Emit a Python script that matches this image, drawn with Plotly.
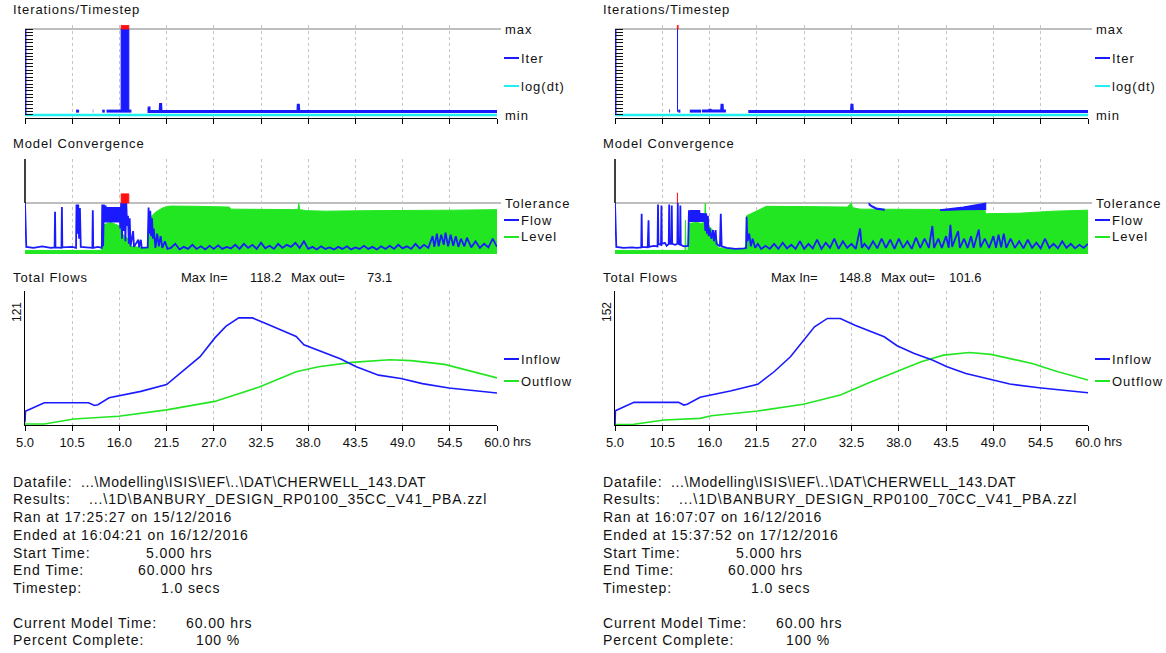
import plotly.graph_objects as go

W, H = 1166, 653

# ---------------- data ----------------
TICK_HOURS = [5.0, 10.5, 16.0, 21.5, 27.0, 32.5, 38.0, 43.5, 49.0, 54.5, 60.0]
TICK_LABELS = ["5.0", "10.5", "16.0", "21.5", "27.0", "32.5", "38.0", "43.5", "49.0", "54.5", "60.0"]

# Iterations/Timestep (0 = min, 1 = max)
left_iter = [(5.0, 1.0), (5.0, 0.0), None,
             (10.95, 0.045), (11.3, 0.045), None,
             (12.9, 0.045), (12.95, 0.045), None,
             (14.0, 0.045), (14.3, 0.045), None,
             (14.5, 0.045), (17.4, 0.045), None,
             (19.3, 0.08), (19.45, 0.08), (19.45, 0.04), (20.75, 0.04), (20.8, 0.14), (20.85, 0.04),
             (36.8, 0.04), (36.85, 0.13), (36.9, 0.04), (60.0, 0.04)]
left_iter_at_max = [(16.2, 17.1)]              # periods where iterations hit max
left_iter_over = [(16.2, 17.1, 1.045)]         # (start, end, top) above max
right_iter = [(5.0, 1.0), (5.0, 0.0), None,
              (11.3, 0.045), (11.4, 0.045), None,
              (12.35, 0.045), (12.6, 0.045), None,
              (13.7, 0.045), (15.0, 0.045), None,
              (15.1, 0.045), (16.0, 0.045), (16.05, 0.07), (16.1, 0.045), (17.4, 0.045), (17.45, 0.13),
              (17.5, 0.045), (17.9, 0.045), None,
              (20.5, 0.04), (32.5, 0.04), (32.55, 0.13), (32.6, 0.04), (60.0, 0.04)]
right_iter_at_max = [(12.27, 12.33)]
right_iter_over = [(12.25, 12.35, 1.045)]
left_logdt = [(5.0, 0.0), (60.0, 0.0)]
right_logdt = [(5.0, 0.0), (60.0, 0.0)]

# Model Convergence (tolerance = 1)
left_level = [(5.0, 0.07), (13.9, 0.07), (14.0, 0.55), (14.5, 0.6), (15.0, 0.62), (15.5, 0.58), (16.0, 0.55),
              (16.3, 0.4), (17.0, 0.3), (17.3, 0.15), (19.3, 0.12), (19.4, 0.7), (19.8, 0.75), (20.2, 0.82),
              (20.6, 0.86), (21.0, 0.9), (21.5, 0.93), (22.0, 0.94), (25.0, 0.935), (28.0, 0.93), (28.8, 0.92),
              (29.0, 0.88), (33.0, 0.87), (36.8, 0.87), (36.9, 1.0), (37.0, 0.87), (37.8, 0.85), (40.0, 0.84),
              (45.0, 0.85), (50.0, 0.85), (55.0, 0.86), (60.0, 0.87)]
left_flow = [(5.0, 1.0), (5.05, 0.35), (5.15, 0.14), (6.0, 0.12), (7.0, 0.15), (8.0, 0.12), (8.45, 0.13),
             (8.5, 0.83), (8.55, 0.13), (9.25, 0.12), (9.3, 0.92), (9.35, 0.13), (10.5, 0.14), (10.95, 0.12),
             (11.0, 0.97), (11.1, 0.4), (11.2, 0.97), (11.3, 0.3), (11.4, 0.9), (11.5, 0.14), (12.5, 0.12),
             (12.85, 0.12), (12.9, 0.86), (12.95, 0.12), (13.5, 0.14),
             (13.95, 0.12), (14.0, 0.97), (14.1, 0.15), (14.2, 0.97), (14.3, 0.62), (14.4, 0.95),
             (14.5, 0.62), (14.6, 0.92), (14.7, 0.62), (14.8, 0.92), (14.9, 0.62), (15.0, 0.92), (15.1, 0.62),
             (15.2, 0.92), (15.3, 0.62), (15.4, 0.92), (15.5, 0.62), (15.6, 0.92), (15.7, 0.62), (15.8, 0.92),
             (15.9, 0.62), (16.0, 0.92), (16.1, 0.5), (16.2, 1.0), (16.3, 0.3), (16.4, 1.0), (16.5, 0.45),
             (16.6, 1.0), (16.7, 0.25), (16.8, 1.0), (16.9, 0.55), (17.0, 0.75), (17.1, 0.2), (17.2, 0.7),
             (17.3, 0.15), (17.6, 0.45), (17.7, 0.14), (18.2, 0.28), (18.3, 0.13), (18.5, 0.28), (18.6, 0.12),
             (19.3, 0.13), (19.4, 0.91), (19.5, 0.4), (19.6, 0.85), (19.7, 0.35), (19.8, 0.7), (19.9, 0.3),
             (20.0, 0.5), (20.2, 0.12), (20.4, 0.4), (20.6, 0.15), (20.8, 0.35), (21.0, 0.12), (21.3, 0.25),
             (21.6, 0.1), (22.0, 0.12), (22.5, 0.2), (23.0, 0.09), (23.5, 0.14), (24.0, 0.1), (24.5, 0.18),
             (25.0, 0.1), (25.5, 0.15), (26.0, 0.09), (26.5, 0.16), (27.0, 0.1), (27.5, 0.17), (28.0, 0.1),
             (28.5, 0.14), (29.0, 0.11), (29.5, 0.18), (30.0, 0.1), (30.5, 0.2), (31.0, 0.12), (31.5, 0.18),
             (32.0, 0.1), (32.5, 0.22), (33.0, 0.11), (33.5, 0.16), (34.0, 0.1), (34.5, 0.2), (35.0, 0.12),
             (35.5, 0.18), (36.0, 0.14), (36.5, 0.22), (37.0, 0.12), (37.5, 0.25), (38.0, 0.1), (38.5, 0.14),
             (39.0, 0.09), (39.5, 0.15), (40.0, 0.1), (40.5, 0.13), (41.0, 0.09), (41.5, 0.14), (42.0, 0.1),
             (42.5, 0.15), (43.0, 0.09), (43.5, 0.13), (44.0, 0.1), (44.5, 0.16), (45.0, 0.1), (45.5, 0.14),
             (46.0, 0.09), (46.5, 0.15), (47.0, 0.1), (47.5, 0.16), (48.0, 0.1), (48.5, 0.18), (49.0, 0.11),
             (49.5, 0.15), (50.0, 0.1), (50.5, 0.2), (51.0, 0.11), (51.5, 0.18), (52.0, 0.12), (52.5, 0.35),
             (52.7, 0.14), (53.0, 0.4), (53.2, 0.15), (53.5, 0.38), (53.8, 0.18), (54.0, 0.42), (54.3, 0.15),
             (54.6, 0.38), (54.9, 0.16), (55.2, 0.35), (55.5, 0.14), (55.8, 0.3), (56.2, 0.15), (56.5, 0.32),
             (57.0, 0.13), (57.5, 0.25), (58.0, 0.12), (58.5, 0.2), (59.0, 0.13), (59.5, 0.3), (60.0, 0.14)]
left_flow_high = []
left_conv_over = [(16.2, 17.1, 1.18)]

right_level = [(5.0, 0.07), (13.15, 0.07), (13.2, 0.66), (13.25, 0.07), (13.5, 0.07), (13.6, 0.6), (14.5, 0.62),
               (15.0, 0.6), (15.4, 0.62), (15.5, 1.0), (15.55, 0.6), (16.2, 0.5), (16.8, 0.3), (17.0, 0.12),
               (20.2, 0.1), (20.3, 0.75), (20.8, 0.79), (21.5, 0.85), (22.0, 0.9), (22.6, 0.935), (27.0, 0.93),
               (31.8, 0.93), (32.0, 0.92), (32.5, 1.0), (32.6, 0.91), (33.5, 0.88), (40.0, 0.87), (48.0, 0.87),
               (48.1, 0.79), (52.0, 0.8), (56.0, 0.84), (60.0, 0.86)]
right_flow = [(5.0, 1.0), (5.05, 0.35), (5.15, 0.14), (6.0, 0.12), (7.0, 0.13), (7.5, 0.12), (8.05, 0.13),
              (8.1, 0.79), (8.15, 0.14), (8.8, 0.13), (8.9, 0.66), (8.95, 0.14), (9.5, 0.16), (9.95, 0.15),
              (10.0, 0.97), (10.05, 0.2), (10.35, 0.18), (10.4, 0.95), (10.45, 0.2), (10.8, 0.22), (11.0, 0.16),
              (11.25, 0.2), (11.3, 0.97), (11.35, 0.2), (11.55, 0.2), (11.6, 0.95), (11.65, 0.2), (12.0, 0.18),
              (12.25, 0.2), (12.3, 1.0), (12.35, 0.2), (12.55, 0.18), (12.6, 0.95), (12.65, 0.18), (13.0, 0.15),
              (13.5, 0.16), (13.6, 0.86), (13.7, 0.63), (13.8, 0.86), (13.9, 0.63), (14.0, 0.86), (14.1, 0.63),
              (14.2, 0.86), (14.3, 0.63), (14.4, 0.86), (14.5, 0.63), (14.6, 0.86), (14.7, 0.63), (14.8, 0.86),
              (14.9, 0.63), (15.0, 0.8), (15.1, 0.63), (15.2, 0.8), (15.3, 0.63), (15.4, 0.8), (15.5, 0.45),
              (15.6, 0.8), (15.7, 0.4), (15.8, 0.75), (15.9, 0.35), (16.0, 0.5), (16.2, 0.3), (16.4, 0.47),
              (16.5, 0.25), (16.7, 0.47), (16.8, 0.2), (17.2, 0.15), (17.3, 0.79), (17.4, 0.15), (18.0, 0.12),
              (19.0, 0.1), (20.0, 0.11), (20.25, 0.12), (20.3, 0.73), (20.4, 0.25), (20.6, 0.4), (20.8, 0.15),
              (21.0, 0.3), (21.3, 0.12), (21.6, 0.2), (22.0, 0.1), (22.5, 0.16), (23.0, 0.1), (23.5, 0.2),
              (24.0, 0.1), (24.5, 0.22), (25.0, 0.11), (25.5, 0.18), (26.0, 0.1), (26.5, 0.25), (27.0, 0.1),
              (27.5, 0.2), (28.0, 0.11), (28.5, 0.28), (29.0, 0.1), (29.5, 0.22), (30.0, 0.12), (30.5, 0.3),
              (31.0, 0.1), (31.5, 0.25), (32.0, 0.12), (32.5, 0.2), (33.0, 0.1), (33.5, 0.5), (33.7, 0.12),
              (34.0, 0.2), (34.5, 0.1), (35.0, 0.25), (35.5, 0.11), (36.0, 0.3), (36.5, 0.12), (37.0, 0.28),
              (37.5, 0.1), (38.0, 0.3), (38.5, 0.12), (39.0, 0.25), (39.5, 0.1), (40.0, 0.32), (40.5, 0.12),
              (41.0, 0.3), (41.5, 0.12), (41.9, 0.55), (42.1, 0.12), (42.6, 0.3), (43.0, 0.12), (43.5, 0.35),
              (43.8, 0.12), (44.0, 0.57), (44.2, 0.14), (44.9, 0.45), (45.1, 0.12), (45.6, 0.3), (46.0, 0.12),
              (46.4, 0.35), (46.7, 0.12), (47.3, 0.48), (47.5, 0.13), (48.0, 0.3), (48.5, 0.12), (49.0, 0.35),
              (49.3, 0.12), (49.6, 0.38), (49.9, 0.13), (50.2, 0.4), (50.5, 0.12), (51.0, 0.3), (51.5, 0.12),
              (52.0, 0.25), (52.5, 0.11), (53.0, 0.28), (53.5, 0.12), (54.0, 0.22), (54.5, 0.11), (55.0, 0.3),
              (55.5, 0.12), (56.0, 0.2), (56.5, 0.11), (57.0, 0.25), (57.5, 0.12), (58.0, 0.2), (58.5, 0.11),
              (59.0, 0.18), (59.5, 0.12), (60.0, 0.2)]
# flow values running close to tolerance (drawn as filled band)
right_flow_high = [(34.5, 1.0), (34.8, 0.95), (35.4, 0.9), (36.3, 0.875), (36.3, 0.86), (35.4, 0.88),
                   (34.8, 0.93), (34.5, 0.97), None,
                   (42.8, 0.865), (45.5, 0.92), (48.1, 0.995), (48.1, 0.875), (45.5, 0.87), (42.8, 0.855)]
right_conv_over = [(12.26, 12.34, 1.2)]

# Total Flows
left_inflow = [(5.0, 3.0), (5.05, 15.1), (7.25, 24.4), (12.4, 24.4), (13.1, 21.4), (13.5, 22.2), (14.8, 29.9),
               (16.3, 32.5), (18.5, 36.9), (21.5, 44.3), (23.2, 57.6), (25.4, 75.0), (27.1, 95.3), (28.4, 108.2),
               (29.9, 117.5), (31.5, 117.5), (33.2, 110.8), (34.9, 103.8), (36.6, 97.2), (37.5, 87.9), (39.7, 79.8),
               (41.8, 72.4), (43.6, 63.9), (46.2, 54.7), (48.8, 51.0), (51.3, 45.4), (54.4, 40.6), (57.0, 38.0),
               (60.0, 35.1)]
left_outflow = [(5.0, 1.1), (7.25, 1.1), (10.7, 6.6), (15.9, 9.6), (21.5, 16.6), (27.1, 25.9), (32.3, 41.7),
                (36.6, 58.4), (39.2, 63.9), (43.1, 68.7), (47.5, 71.5), (50.0, 70.6), (53.9, 66.5), (57.0, 59.1),
                (60.0, 51.7)]
right_inflow = [(5.0, 0.5), (5.05, 19.9), (7.2, 31.4), (12.4, 31.4), (13.0, 27.7), (13.4, 28.7), (14.9, 38.4),
                (16.2, 41.6), (18.4, 47.1), (21.6, 56.4), (23.5, 73.9), (25.4, 94.7), (26.9, 117.8), (28.2, 136.3),
                (29.7, 147.9), (31.2, 147.9), (32.9, 138.6), (34.6, 130.8), (36.3, 122.5), (37.8, 110.0),
                (39.8, 99.4), (41.9, 90.1), (43.6, 80.9), (45.8, 71.6), (48.3, 64.7), (50.9, 56.8), (54.3, 51.8),
                (57.3, 48.5), (60.0, 44.8)]
right_outflow = [(5.0, 0.5), (7.2, 1.0), (10.7, 6.9), (14.9, 9.2), (16.2, 12.9), (21.6, 19.4), (26.9, 28.7),
                 (31.2, 41.6), (34.6, 59.1), (37.2, 71.6), (40.6, 87.8), (43.2, 97.0), (46.2, 100.7), (48.7, 98.0),
                 (53.5, 85.5), (56.5, 73.9), (60.0, 62.4)]

FLOW_LABEL = ["121", "152"]
FLOW_AXIS_TOP = [147, 186]
MAX_IN = ["118.2", "148.8"]
MAX_OUT = ["73.1", "101.6"]

INFO_LABELS = ["Datafile:", "Results:", "", "", "Start Time:", "End Time:", "Timestep:",
               "Current Model Time:", "Percent Complete:"]
left_info = [r"...\Modelling\ISIS\IEF\..\DAT\CHERWELL_143.DAT",
             r"...\1D\BANBURY_DESIGN_RP0100_35CC_V41_PBA.zzl",
             "Ran at 17:25:27 on 15/12/2016", "Ended at 16:04:21 on 16/12/2016",
             "5.000 hrs", "60.000 hrs", "1.0 secs", "60.00 hrs", "100 %"]
right_info = [r"...\Modelling\ISIS\IEF\..\DAT\CHERWELL_143.DAT",
              r"...\1D\BANBURY_DESIGN_RP0100_70CC_V41_PBA.zzl",
              "Ran at 16:07:07 on 16/12/2016", "Ended at 15:37:52 on 17/12/2016",
              "5.000 hrs", "60.000 hrs", "1.0 secs", "60.00 hrs", "100 %"]

# ---------------- styling / layout ----------------
BLUE = "#1a1aff"
GREEN = "#22e622"
CYAN = "#22f0f0"
RED = "#ff1010"
GREY = "#a8a8a8"
GRID = "#c4c4c4"
TXT = "#111111"
FONT = "Liberation Sans, Arial, sans-serif"

PANEL_X = [(25, 497), (615, 1088)]
OFFSET = [0, 590]
ITER_Y = (25, 118)
CONV_Y = (159, 254)
FLOW_Y = (291, 425)
ITER_RANGE = [-0.035, 1.047]
CONV_RANGE = [0, 1.863]


def unzip(pts):
    xs = [p[0] if p is not None else None for p in pts]
    ys = [p[1] if p is not None else None for p in pts]
    return xs, ys


def segments(pts):
    segs, cur = [], []
    for p in pts:
        if p is None:
            if cur:
                segs.append(cur)
            cur = []
        else:
            cur.append(p)
    if cur:
        segs.append(cur)
    return segs


def px(x):
    return x / W


def py(y):
    return 1 - y / H


fig = go.Figure()
layout = dict(width=W, height=H, margin=dict(l=0, r=0, t=0, b=0, autoexpand=False), autosize=False,
              paper_bgcolor="white", plot_bgcolor="white", showlegend=False)
annotations = []
shapes = []


def spaced(s, sp):
    if sp:
        return f'<span style="letter-spacing:{sp}px">{s}</span>'
    return s


def text(x, y, s, size=12, anchor="left", angle=0, sp=0.0):
    annotations.append(dict(x=px(x), y=py(y), xref="paper", yref="paper", text=spaced(s, sp), showarrow=False,
                            xanchor=anchor, yanchor="middle", textangle=angle, borderpad=0,
                            font=dict(family=FONT, size=size, color=TXT)))


def legend_item(x0, y, color, label):
    shapes.append(dict(type="line", xref="paper", yref="paper", x0=px(x0), x1=px(x0 + 15),
                       y0=py(y), y1=py(y), line=dict(color=color, width=2)))
    text(x0 + 16, y, label, 13, sp=1.0)


def xaxis_common(dom, anchor, **kw):
    d = dict(domain=[px(dom[0]), px(dom[1])], range=[5, 60], anchor=anchor,
             tickvals=TICK_HOURS, ticktext=TICK_LABELS, showgrid=True, gridcolor=GRID,
             griddash="3px,3px", gridwidth=1, zeroline=False, fixedrange=True, layer="below traces")
    d.update(kw)
    return d


def rect_polys(periods, base, top=None):
    xs, ys = [], []
    for per in periods:
        a, b = per[0], per[1]
        t = per[2] if top is None else top
        xs += [a, a, b, b, a, None]
        ys += [base, t, t, base, base, None]
    return xs, ys


panels = [
    dict(iter=left_iter, atmax=left_iter_at_max, logdt=left_logdt, iover=left_iter_over, level=left_level,
         flow=left_flow, high=left_flow_high, cover=left_conv_over, inflow=left_inflow, outflow=left_outflow,
         info=left_info),
    dict(iter=right_iter, atmax=right_iter_at_max, logdt=right_logdt, iover=right_iter_over, level=right_level,
         flow=right_flow, high=right_flow_high, cover=right_conv_over, inflow=right_inflow,
         outflow=right_outflow, info=right_info),
]

for i, p in enumerate(panels):
    dom = PANEL_X[i]
    off = OFFSET[i]
    ax_i, ax_c, ax_f = 3 * i + 1, 3 * i + 2, 3 * i + 3
    lx0 = dom[1] + 7  # legend column start

    def xr(k):
        return "x" if k == 1 else f"x{k}"

    def yr(k):
        return "y" if k == 1 else f"y{k}"

    def xname(k):
        return "xaxis" if k == 1 else f"xaxis{k}"

    def yname(k):
        return "yaxis" if k == 1 else f"yaxis{k}"

    # ---- Iterations/Timestep ----
    layout[xname(ax_i)] = xaxis_common(dom, yr(ax_i), showline=True, linecolor="black", linewidth=1,
                                       ticks="outside", ticklen=5, tickcolor="black", showticklabels=False)
    layout[yname(ax_i)] = dict(domain=[py(ITER_Y[1]), py(ITER_Y[0])], range=ITER_RANGE, anchor=xr(ax_i),
                               showgrid=False, zeroline=False, showline=False, ticks="inside", ticklen=8,
                               tickcolor="#111", tickwidth=1, tickmode="array",
                               tickvals=[k * 0.04 for k in range(26)], showticklabels=False, fixedrange=True)
    shapes.append(dict(type="line", xref="paper", yref=yr(ax_i), x0=px(dom[0]), x1=px(dom[1] + 4),
                       y0=1.0, y1=1.0, line=dict(color=GREY, width=1.5), layer="below"))
    lx, ly = unzip(p["logdt"])
    fig.add_trace(go.Scatter(x=lx, y=ly, mode="lines", line=dict(color=CYAN, width=2.5),
                             xaxis=xr(ax_i), yaxis=yr(ax_i), hoverinfo="skip"))
    ix, iy = unzip(p["iter"])
    fig.add_trace(go.Scatter(x=ix, y=iy, mode="lines", line=dict(color=BLUE, width=3), connectgaps=False,
                             xaxis=xr(ax_i), yaxis=yr(ax_i), hoverinfo="skip"))
    bx, by = rect_polys(p["atmax"], 0.04, 1.0)
    fig.add_trace(go.Scatter(x=bx, y=by, mode="lines", line=dict(color=BLUE, width=1), fill="toself",
                             fillcolor=BLUE, xaxis=xr(ax_i), yaxis=yr(ax_i), hoverinfo="skip"))
    rx, ry = rect_polys(p["iover"], 1.0)
    fig.add_trace(go.Scatter(x=rx, y=ry, mode="lines", line=dict(color=RED, width=0.8), fill="toself",
                             fillcolor=RED, xaxis=xr(ax_i), yaxis=yr(ax_i), hoverinfo="skip"))
    text(lx0, 29, "max", 13, sp=1.0)
    legend_item(lx0, 58, BLUE, "Iter")
    legend_item(lx0, 86, CYAN, "log(dt)")
    text(lx0, 115, "min", 13, sp=1.0)
    text(12 + off, 10, "Iterations/Timestep", 13, sp=0.9)

    # ---- Model Convergence ----
    layout[xname(ax_c)] = xaxis_common(dom, yr(ax_c), showline=False, ticks="", showticklabels=False)
    layout[yname(ax_c)] = dict(domain=[py(CONV_Y[1]), py(CONV_Y[0])], range=CONV_RANGE, anchor=xr(ax_c),
                               showgrid=False, zeroline=False, showline=False, showticklabels=False,
                               fixedrange=True)
    shapes.append(dict(type="line", xref="paper", yref=yr(ax_c), x0=px(dom[0]), x1=px(dom[1] + 4),
                       y0=1.0, y1=1.0, line=dict(color=GREY, width=1.5), layer="below"))
    shapes.append(dict(type="line", xref="paper", yref=yr(ax_c), x0=px(dom[0]), x1=px(dom[0]),
                       y0=1.0, y1=CONV_RANGE[1], line=dict(color="black", width=1.5)))
    gx, gy = unzip(p["level"])
    fig.add_trace(go.Scatter(x=gx, y=gy, mode="lines", line=dict(color=GREEN, width=1), fill="tozeroy",
                             fillcolor=GREEN, xaxis=xr(ax_c), yaxis=yr(ax_c), hoverinfo="skip"))
    fx, fy = unzip(p["flow"])
    fig.add_trace(go.Scatter(x=fx, y=fy, mode="lines", line=dict(color=BLUE, width=1.8), connectgaps=False,
                             xaxis=xr(ax_c), yaxis=yr(ax_c), hoverinfo="skip"))
    for seg in segments(p["high"]):
        sx, sy = unzip(seg)
        fig.add_trace(go.Scatter(x=sx, y=sy, mode="lines", line=dict(color=BLUE, width=1.2), fill="toself",
                                 fillcolor=BLUE, xaxis=xr(ax_c), yaxis=yr(ax_c), hoverinfo="skip"))
    rx, ry = rect_polys(p["cover"], 1.0)
    fig.add_trace(go.Scatter(x=rx, y=ry, mode="lines", line=dict(color=RED, width=0.8), fill="toself",
                             fillcolor=RED, xaxis=xr(ax_c), yaxis=yr(ax_c), hoverinfo="skip"))
    text(lx0, 203, "Tolerance", 13, sp=1.0)
    legend_item(lx0, 220, BLUE, "Flow")
    legend_item(lx0, 237, GREEN, "Level")
    text(12 + off, 143, "Model Convergence", 13, sp=0.9)

    # ---- Total Flows ----
    layout[xname(ax_f)] = xaxis_common(dom, yr(ax_f), showline=True, linecolor="black", linewidth=1,
                                       ticks="outside", ticklen=5, tickcolor="black", showticklabels=True,
                                       tickfont=dict(family=FONT, size=13, color=TXT))
    layout[yname(ax_f)] = dict(domain=[py(FLOW_Y[1]), py(FLOW_Y[0])], range=[0, FLOW_AXIS_TOP[i]],
                               anchor=xr(ax_f), showgrid=False, zeroline=False, showline=True,
                               linecolor="black", linewidth=1, showticklabels=False, ticks="",
                               fixedrange=True)
    ox, oy = unzip(p["outflow"])
    fig.add_trace(go.Scatter(x=ox, y=oy, mode="lines", line=dict(color=GREEN, width=1.6),
                             xaxis=xr(ax_f), yaxis=yr(ax_f), hoverinfo="skip"))
    nx, ny = unzip(p["inflow"])
    fig.add_trace(go.Scatter(x=nx, y=ny, mode="lines", line=dict(color=BLUE, width=1.6),
                             xaxis=xr(ax_f), yaxis=yr(ax_f), hoverinfo="skip"))
    legend_item(lx0, 359, BLUE, "Inflow")
    legend_item(lx0, 381, GREEN, "Outflow")
    text(dom[1] + 15, 441, "hrs", 13)
    text(17 + off, 312, FLOW_LABEL[i], 12, anchor="center", angle=-90)
    text(12 + off, 277, "Total Flows", 13, sp=0.9)
    text(180 + off, 277, "Max In=", 13)
    text(283 + off, 277, MAX_IN[i], 13, anchor="right")
    text(290 + off, 277, "Max out=", 13)
    text(393 + off, 277, MAX_OUT[i], 13, anchor="right")

    # ---- info block ----
    rows_y = [482, 499, 517, 535, 553, 570, 588, 623, 640]
    val_x = [80, 88, None, None, 145, 137, 160, 185, 195]
    val_sp = [0.6, 0.9, 0.9, 0.9, 0.9, 0.9, 0.9, 0.9, 0.9]
    for lab, val, yy, vx, vs in zip(INFO_LABELS, p["info"], rows_y, val_x, val_sp):
        if lab:
            text(12 + off, yy, lab, 14, sp=0.9)
            text(vx + off, yy, val, 14, sp=vs)
        else:
            text(12 + off, yy, val, 14, sp=vs)

layout["annotations"] = annotations
layout["shapes"] = shapes
fig.update_layout(**layout)
fig.write_html("out.html", config={"displayModeBar": False},
               post_script="document.body.style.margin='0';document.body.style.overflow='hidden';")
